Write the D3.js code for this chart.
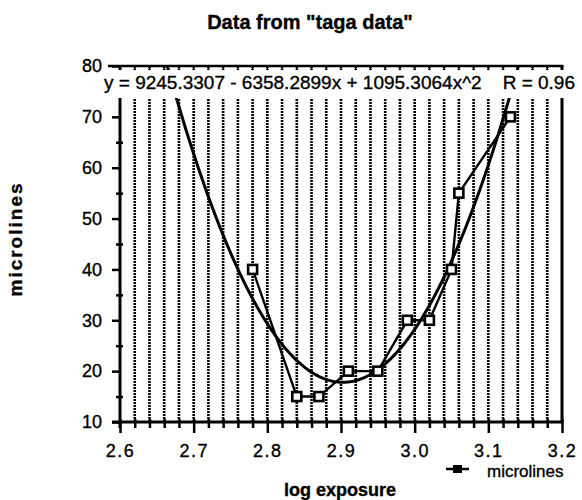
<!DOCTYPE html>
<html>
<head>
<meta charset="utf-8">
<script src="https://cdn.jsdelivr.net/npm/d3@7"></script>
<style>
	body { margin: 0; background: #fff; }
	text { font-family: "Liberation Sans", Arial, Helvetica, sans-serif; fill: #000; stroke: #000; stroke-width: 0.35px; }
</style>
</head>
<body>
<svg id="visualization"></svg>
<script>
// measured points
const exposure = [2.78, 2.84, 2.87, 2.91, 2.95, 2.99, 3.02, 3.05, 3.06, 3.13];
const microlines = [40, 15, 15, 20, 20, 30, 30, 40, 55, 70];

// quadratic fit y = a + b*x + c*x^2
const fitCoef = [9245.3307, -6358.2899, 1095.3064];
const fitR = 0.96;

const xTicks = [2.6, 2.7, 2.8, 2.9, 3.0, 3.1, 3.2];
const yTicks = [10, 20, 30, 40, 50, 60, 70, 80];

let vis = d3.select("#visualization"),
	WIDTH = 582,
	HEIGHT = 500,
	MARGINS = {
		top: 66,
		right: 20,
		bottom: 78,
		left: 120
	},
	xScale = d3.scaleLinear()
		.range([MARGINS.left, WIDTH - MARGINS.right])
		.domain([2.6, 3.2]),
	yScale = d3.scaleLinear()
		.range([HEIGHT - MARGINS.bottom, MARGINS.top])
		.domain([10, 80]);

vis.attr('width', WIDTH).attr('height', HEIGHT);

let minorX = d3.range(0, 31).map(function (i) { return 2.6 + i * 0.02; });
let minorY = d3.range(0, 15).map(function (i) { return 10 + i * 5; });

function isMajorX(d) {
	return xTicks.some(function (t) { return Math.abs(t - d) < 1e-6; });
}

// dotted vertical grid
vis.append("svg:g")
	.selectAll("line")
	.data(minorX.slice(1, -1))
	.enter().append("line")
	.attr("x1", function (d) { return xScale(d); })
	.attr("x2", function (d) { return xScale(d); })
	.attr("y1", yScale(80))
	.attr("y2", yScale(10))
	.attr("stroke", "#000")
	.attr("stroke-width", 2.6)
	.attr("stroke-dasharray", "2,1");

vis.append("defs").append("clipPath")
	.attr("id", "plot-clip")
	.append("rect")
	.attr("x", xScale(2.6))
	.attr("y", yScale(80))
	.attr("width", xScale(3.2) - xScale(2.6))
	.attr("height", yScale(10) - yScale(80));

// fitted curve
let fitLine = d3.line()
	.x(function (d) { return xScale(d); })
	.y(function (d) { return yScale(fitCoef[0] + fitCoef[1] * d + fitCoef[2] * d * d); });

vis.append("svg:path")
	.attr("clip-path", "url(#plot-clip)")
	.attr("d", fitLine(d3.range(2.6, 3.2001, 0.002)))
	.attr("stroke", "#000")
	.attr("stroke-width", 3)
	.attr("fill", "none");

// data line
let lineGen = d3.line()
	.x(function (d, i) { return xScale(exposure[i]); })
	.y(function (d) { return yScale(d); });

vis.append("svg:path")
	.attr("d", lineGen(microlines))
	.attr("stroke", "#000")
	.attr("stroke-width", 2.4)
	.attr("fill", "none");

vis.append("svg:g")
	.selectAll("rect")
	.data(microlines)
	.enter().append("rect")
	.attr("x", function (d, i) { return xScale(exposure[i]) - 4.5; })
	.attr("y", function (d) { return yScale(d) - 4.5; })
	.attr("width", 9)
	.attr("height", 9)
	.attr("fill", "#fff")
	.attr("stroke", "#000")
	.attr("stroke-width", 2.6);

// frame
vis.append("svg:line")
	.attr("x1", xScale(3.2)).attr("x2", xScale(3.2))
	.attr("y1", yScale(80)).attr("y2", yScale(10))
	.attr("stroke", "#000").attr("stroke-width", 3);

vis.append("svg:line")
	.attr("x1", 108).attr("x2", xScale(3.2) + 1.5)
	.attr("y1", yScale(80)).attr("y2", yScale(80))
	.attr("stroke", "#000").attr("stroke-width", 2.5);

vis.append("svg:g")
	.selectAll("line")
	.data(minorX)
	.enter().append("line")
	.attr("x1", function (d) { return xScale(d); })
	.attr("x2", function (d) { return xScale(d); })
	.attr("y1", yScale(80))
	.attr("y2", yScale(80) + 4)
	.attr("stroke", "#000")
	.attr("stroke-width", 1.5);

// axes
let xAxis = d3.axisBottom(xScale)
	.tickValues(minorX)
	.tickSize(6)
	.tickFormat(function (d) { return isMajorX(d) ? d3.format(".1f")(d) : ""; });

let gx = vis.append("svg:g")
	.attr("transform", "translate(0," + yScale(10) + ")")
	.call(xAxis);

gx.select(".domain").attr("stroke-width", 3).attr("d", "M" + (xScale(2.6) - 8) + ",0H" + xScale(3.2));
gx.selectAll(".tick line")
	.attr("stroke-width", 2.5)
	.attr("y1", -3)
	.attr("y2", function (d) { return isMajorX(d) ? 11 : 6; });
gx.selectAll(".tick text")
	.attr("y", 22)
	.attr("dy", "0.71em")
	.style("font-size", "18px")
	.style("letter-spacing", "1.5px")
	.style("font-family", "Liberation Sans, Arial, sans-serif");

let yAxis = d3.axisLeft(yScale)
	.tickValues(minorY)
	.tickSize(8)
	.tickFormat(function (d) { return d % 10 === 0 ? d : ""; });

let gy = vis.append("svg:g")
	.attr("transform", "translate(" + xScale(2.6) + ",0)")
	.call(yAxis);

gy.select(".domain").attr("stroke-width", 3).attr("d", "M0," + yScale(80) + "V" + (yScale(10) + 6));
gy.selectAll(".tick line")
	.attr("stroke-width", 2.5)
	.attr("x1", function (d) { return d % 10 === 0 ? 0 : 3; })
	.attr("x2", function (d) { return d % 10 === 0 ? -8 : -4; });
gy.selectAll(".tick text")
	.attr("x", -18)
	.style("font-size", "18px")
	.style("font-family", "Liberation Sans, Arial, sans-serif");

// equation label with white box over the plot
vis.append("svg:rect")
	.attr("x", 103)
	.attr("y", yScale(80) + 4)
	.attr("width", 473)
	.attr("height", 28)
	.attr("fill", "#fff");

vis.append("svg:text")
	.attr("x", 104)
	.attr("y", 89)
	.style("font-size", "19px")
	.text("y = " + fitCoef[0].toFixed(4) + " - " + Math.abs(fitCoef[1]).toFixed(4) + "x + " + fitCoef[2].toFixed(4) + "x^2");

vis.append("svg:text")
	.attr("x", 575)
	.attr("y", 89)
	.attr("text-anchor", "end")
	.style("font-size", "19px")
	.text("R = " + fitR.toFixed(2));

// titles
vis.append("svg:text")
	.attr("x", 310)
	.attr("y", 29)
	.attr("text-anchor", "middle")
	.style("font-size", "20px")
	.style("font-weight", "bold")
	.text('Data from "taga data"');

vis.append("svg:text")
	.attr("x", 340)
	.attr("y", 496)
	.attr("text-anchor", "middle")
	.style("font-size", "18px")
	.style("font-weight", "bold")
	.text("log exposure");

vis.append("svg:text")
	.attr("transform", "translate(22,239) rotate(-90)")
	.attr("text-anchor", "middle")
	.style("font-size", "19px")
	.style("font-weight", "bold")
	.style("letter-spacing", "2px")
	.text("microlines");

// legend
let legend = vis.append("svg:g")
	.attr("transform", "translate(446,469)");

legend.append("line")
	.attr("x1", 0).attr("x2", 23)
	.attr("y1", 0).attr("y2", 0)
	.attr("stroke", "#000").attr("stroke-width", 2.5);

legend.append("rect")
	.attr("x", 7).attr("y", -4)
	.attr("width", 9).attr("height", 8)
	.attr("fill", "#000");

legend.append("text")
	.attr("x", 41)
	.attr("y", 8)
	.style("font-size", "17px")
	.text("microlines");
</script>
</body>
</html>
